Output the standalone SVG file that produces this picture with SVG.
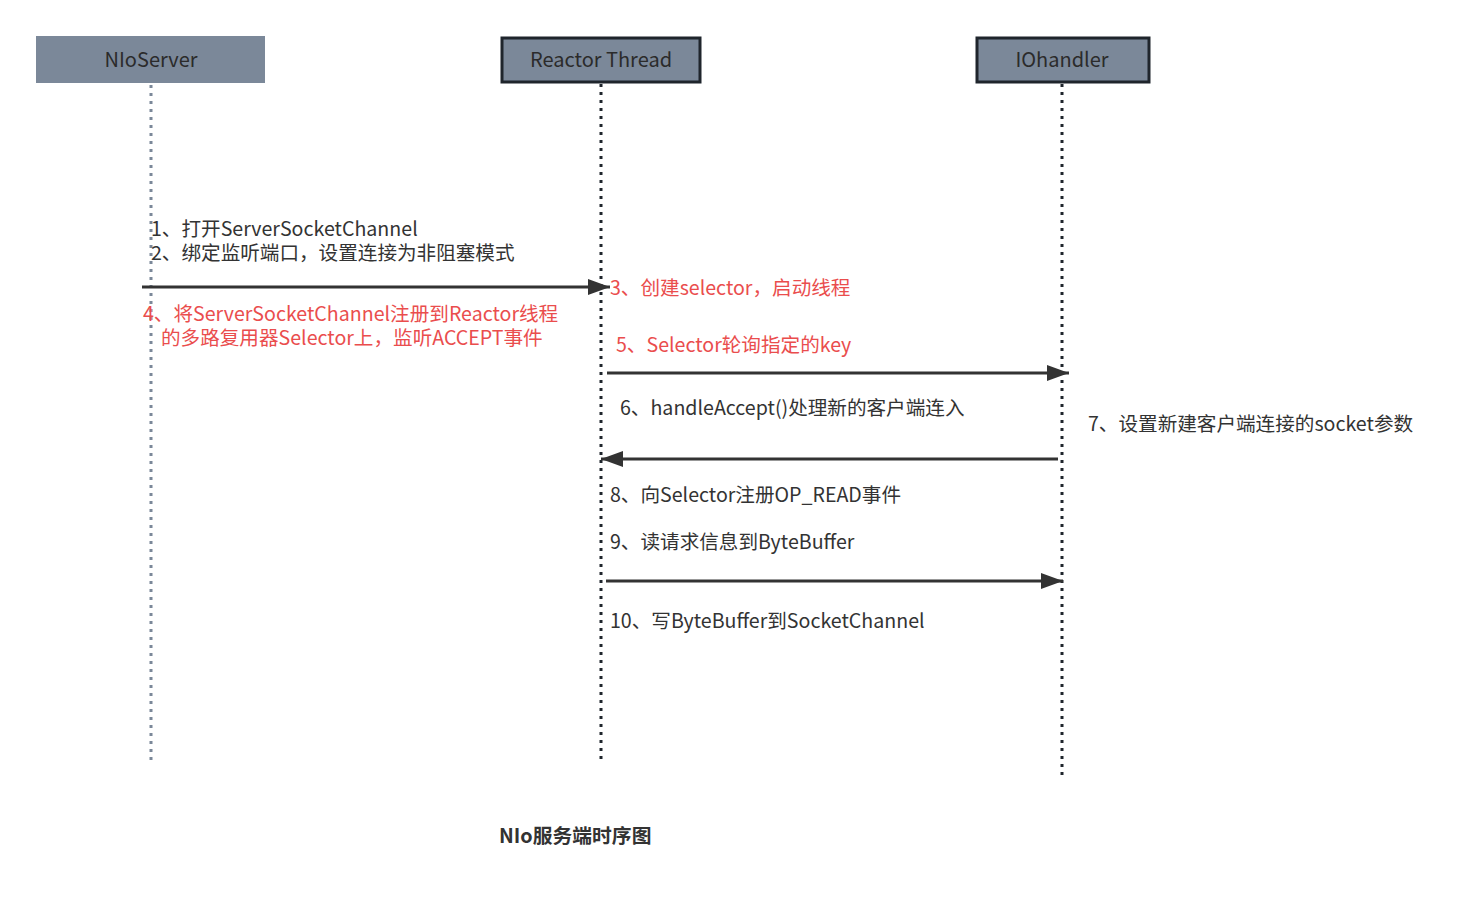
<svg xmlns="http://www.w3.org/2000/svg" width="1458" height="904" viewBox="0 0 1458 904">
<style>
text{font-family:"Noto Sans CJK SC","Noto Sans",sans-serif;font-size:19.6px;fill:#333333}
.red{fill:#ea4d4d}
.box{fill:#7b8899}
.boxb{fill:#7b8899;stroke:#1f252c;stroke-width:3}
.lbl{font-size:20px;fill:#2b2b2b;text-anchor:middle}
.ll{stroke:#1f252c;stroke-width:3;stroke-dasharray:3 5;fill:none}
.llg{stroke:#7b8899;stroke-width:3;stroke-dasharray:3 5;fill:none}
.msg{stroke:#333333;stroke-width:3;fill:none}
.title{font-weight:bold;font-size:19.8px}
</style>
<defs>
<marker id="a2" viewBox="0 0 10 10" refX="10" refY="5" markerWidth="22" markerHeight="16" markerUnits="userSpaceOnUse" orient="auto" preserveAspectRatio="none">
<path d="M0,0 L10,5 L0,10 z" fill="#333333"/>
</marker>
</defs>
<g id="lifelines">
<line class="llg" x1="151" y1="85" x2="151" y2="760"/>
<line class="ll" x1="601" y1="84" x2="601" y2="760"/>
<line class="ll" x1="1062" y1="84" x2="1062" y2="778"/>
</g>
<g id="nioserver">
<rect class="box" x="36" y="36" width="229" height="47"/>
<text class="lbl" x="151" y="67">NIoServer</text>
</g>
<g id="reactor">
<rect class="boxb" x="502" y="38" width="198" height="44"/>
<text class="lbl" x="601" y="67">Reactor Thread</text>
</g>
<g id="iohandler">
<rect class="boxb" x="977" y="38" width="172" height="44"/>
<text class="lbl" x="1062" y="67">IOhandler</text>
</g>
<g id="connectors">
<line class="msg" x1="142" y1="287" x2="610" y2="287" marker-end="url(#a2)"/>
<line class="msg" x1="607" y1="373" x2="1069" y2="373" marker-end="url(#a2)"/>
<line class="msg" x1="1058" y1="459" x2="601" y2="459" marker-end="url(#a2)"/>
<line class="msg" x1="606" y1="581" x2="1063" y2="581" marker-end="url(#a2)"/>
</g>
<g id="labels">
<text x="151" y="236"><tspan x="151" y="236">1、打开ServerSocketChannel</tspan><tspan x="151" y="260">2、绑定监听端口，设置连接为非阻塞模式</tspan></text>
<text class="red" x="143" y="321"><tspan x="143" y="321">4、将ServerSocketChannel注册到Reactor线程</tspan><tspan x="161" y="345">的多路复用器Selector上，监听ACCEPT事件</tspan></text>
<text class="red" x="610" y="295">3、创建selector，启动线程</text>
<text class="red" x="616" y="352">5、Selector轮询指定的key</text>
<text x="620" y="415">6、handleAccept()处理新的客户端连入</text>
<text x="1088" y="431">7、设置新建客户端连接的socket参数</text>
<text x="610" y="502">8、向Selector注册OP_READ事件</text>
<text x="610" y="549">9、读请求信息到ByteBuffer</text>
<text x="610" y="628">10、写ByteBuffer到SocketChannel</text>
<text class="title" x="499" y="843">NIo服务端时序图</text>
</g>
</svg>
